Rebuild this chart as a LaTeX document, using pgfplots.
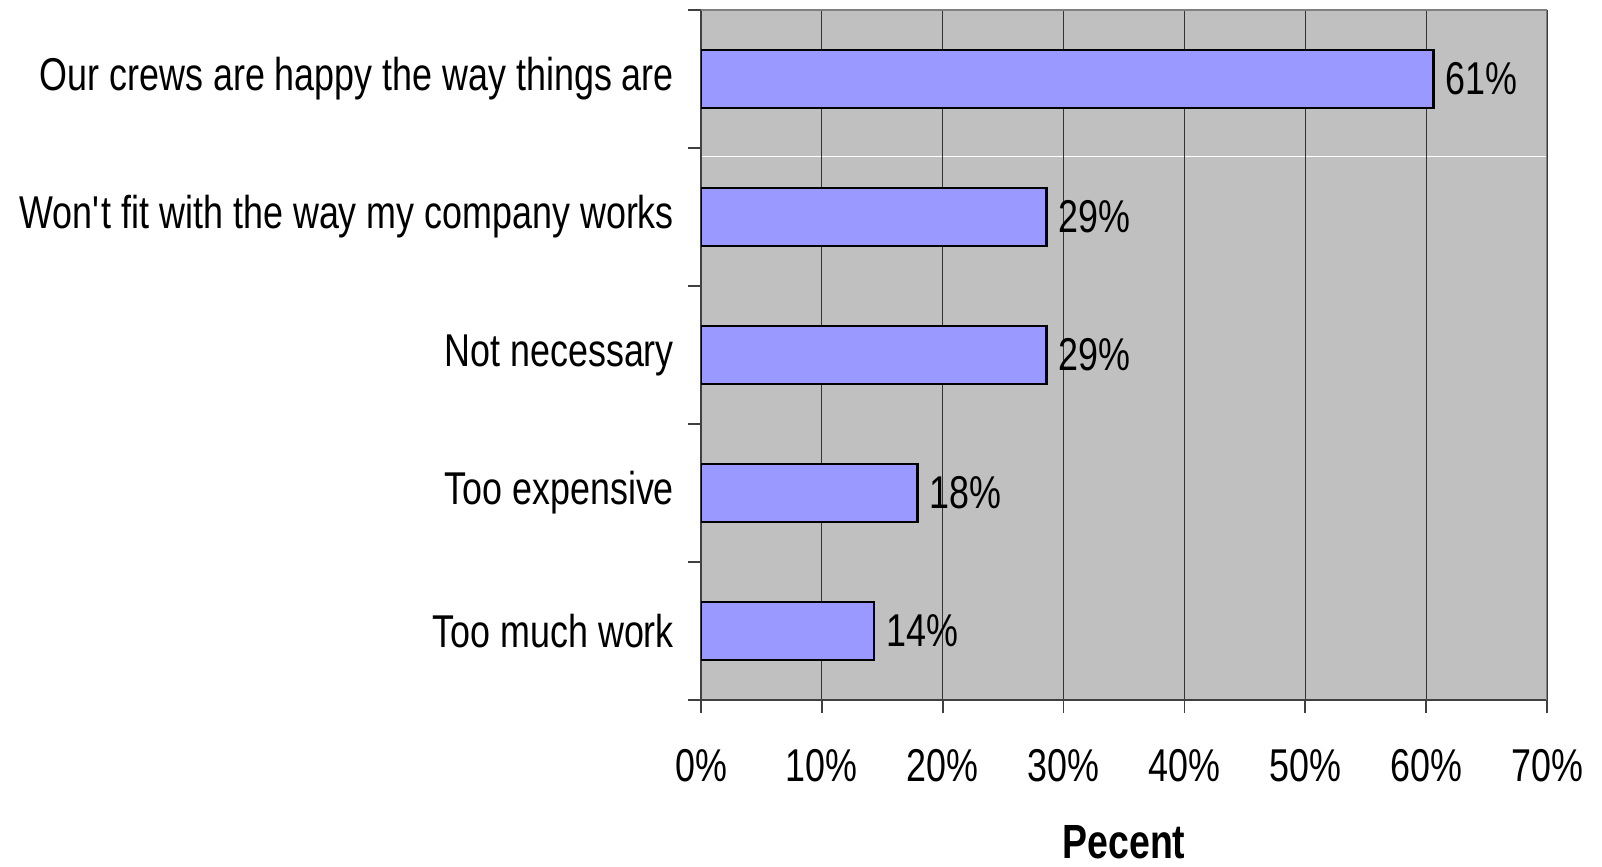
\documentclass[border=0pt]{standalone}
\usepackage{pgfplots}
\pgfplotsset{compat=1.18}
\usepackage{fontspec}
\setmainfont{Liberation Sans}[FakeStretch=0.78]
\definecolor{plotbg}{RGB}{192,192,192}
\definecolor{barfill}{RGB}{153,153,255}
\definecolor{framegray}{RGB}{128,128,128}
\pgfplotsset{set layers}
\begin{document}
\begin{tikzpicture}
\begin{axis}[
  name=ax,
  scale only axis, width=423pt, height=345pt,
  xmin=0, xmax=70, ymin=-0.5, ymax=4.5,
  axis x line*=bottom, axis y line*=left,
  axis line style={black!75, line width=1pt},
  axis background/.style={fill=plotbg},
  tick align=outside, major tick length=6.5pt,
  tick style={black!75, line width=0.8pt},
  xtick={0,10,...,70},
  xticklabels={0\%,10\%,20\%,30\%,40\%,50\%,60\%,70\%},
  xmajorgrids, major grid style={black!80, line width=0.5pt},
  ytick={-0.5,0.5,...,4.5}, yticklabels={},
  extra y ticks={0,1,2,3,4},
  extra y tick labels={Too much work,Too expensive,Not necessary,Won\textquotesingle t fit with the way my company works,Our crews are happy the way things are},
  extra y tick style={major tick length=0pt, grid=none},
  ticklabel style={font=\fontsize{23}{27}\selectfont},
  xticklabel style={yshift=-14.5pt},
  yticklabel style={xshift=-10pt},
  xlabel={\textbf{Pecent}},
  xlabel style={font=\fontsize{24}{28}\selectfont, yshift=-15pt},
  /pgf/number format/assume math mode=true,
]
\addplot[white, line width=0.5pt, sharp plot, on layer=axis background, forget plot] coordinates {(0,3.435) (70,3.435)};
\addplot[xbar, bar width=29pt, fill=barfill, draw=black, line width=1.3pt,
  nodes near coords={\pgfmathprintnumber[fixed, precision=0]{\pgfplotspointmeta}\%},
  nodes near coords align=horizontal,
  every node near coord/.append style={font=\fontsize{23}{27}\selectfont, black, anchor=west, inner sep=0pt, xshift=5.5pt}] coordinates {
  (14.3,0) (17.9,1) (28.6,2) (28.6,3) (60.6,4)
};
\draw[framegray, line width=1pt] (rel axis cs:0,1) -- (rel axis cs:1,1) -- (rel axis cs:1,0);
\end{axis}
\pgfresetboundingbox
\path ([xshift=-350.5pt, yshift=-83pt]ax.south west) rectangle ([xshift=27.5pt, yshift=5pt]ax.north east);
\end{tikzpicture}
\end{document}
